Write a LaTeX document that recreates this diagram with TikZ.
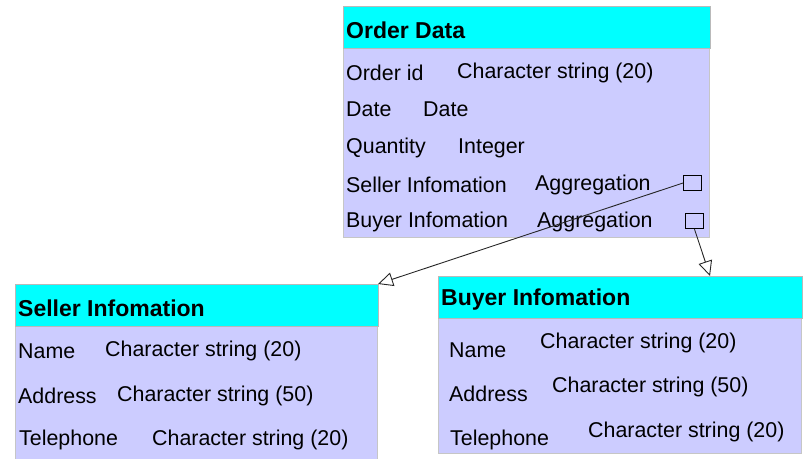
\documentclass[tikz,border=0pt]{standalone}
\usepackage{fontspec}
\setmainfont{Liberation Sans}
\usetikzlibrary{arrows.meta}
\definecolor{headc}{HTML}{00FFFF}
\definecolor{bodyc}{HTML}{CCCCFF}
\begin{document}
\begin{tikzpicture}[x=1pt,y=-1pt,
  headbox/.style={draw=gray!55,line width=0.8pt,fill=headc,anchor=north west,inner sep=0pt,outer sep=0pt},
  bodybox/.style={draw=gray!45,line width=0.8pt,fill=bodyc,anchor=north west,inner sep=0pt,outer sep=0pt},
  htext/.style={anchor=west,inner sep=0pt,font=\fontsize{23}{26}\selectfont\bfseries},
  ftext/.style={anchor=west,inner sep=0pt,font=\fontsize{21.4}{25}\selectfont},
  sq/.style={draw=black,line width=0.9pt,fill=none,minimum width=18pt,minimum height=15.5pt,inner sep=0pt},
  conn/.style={draw=black!85,line width=0.9pt},
  agg/.style={conn,-{Triangle[open,length=15pt,width=14pt,fill=white]}}]
\useasboundingbox (0,0) rectangle (803,458);
% Order Data
\node[bodybox,minimum width=366pt,minimum height=189pt] (obody) at (343,48) {};
\node[headbox,minimum width=367pt,minimum height=42pt] (ohead) at (343,6) {};
\node[htext] (ot) at (346,30) {Order Data};
\node[ftext] (o1a) at (346,73) {Order id};
\node[ftext] (o1b) at (457,73) {Character string (20)};
\node[ftext] (o2a) at (346,109) {Date};
\node[ftext] (o2b) at (423,109) {Date};
\node[ftext] (o3a) at (346,148) {Quantity};
\node[ftext] (o3b) at (458,148) {Integer};
\node[ftext] (o4a) at (346,185) {Seller Infomation};
\node[ftext] (o4b) at (535,185) {Aggregation};
\node[ftext] (o5a) at (346,222) {Buyer Infomation};
\node[ftext] (o5b) at (537,222) {Aggregation};
\node[sq] (sq1) at (692.5,183) {};
\node[sq] (sq2) at (694.5,221) {};
% Seller
\node[bodybox,minimum width=362pt,minimum height=140pt] (sbody) at (15,326) {};
\node[headbox,minimum width=363pt,minimum height=42pt] (shead) at (15,284) {};
\node[htext] (st) at (18,308) {Seller Infomation};
\node[ftext] (s1a) at (18,351) {Name};
\node[ftext] (s1b) at (105,351) {Character string (20)};
\node[ftext] (s2a) at (18,396) {Address};
\node[ftext] (s2b) at (117,396) {Character string (50)};
\node[ftext] (s3a) at (19,440) {Telephone};
\node[ftext] (s3b) at (152,440) {Character string (20)};
% Buyer
\node[bodybox,minimum width=363pt,minimum height=135pt] (bbody) at (438,318) {};
\node[headbox,minimum width=364pt,minimum height=42pt] (bhead) at (438,276) {};
\node[htext] (bt) at (441,300) {Buyer Infomation};
\node[ftext] (b1a) at (449,350) {Name};
\node[ftext] (b1b) at (540,343) {Character string (20)};
\node[ftext] (b2a) at (449,394) {Address};
\node[ftext] (b2b) at (552,387) {Character string (50)};
\node[ftext] (b3a) at (450,440) {Telephone};
\node[ftext] (b3b) at (588,432) {Character string (20)};
% connectors
\coordinate (btop) at (710,276);
\draw[agg] (sq1.west) -- (shead.north east);
\draw[agg] (sq2.south) -- (btop);
\end{tikzpicture}
\end{document}
